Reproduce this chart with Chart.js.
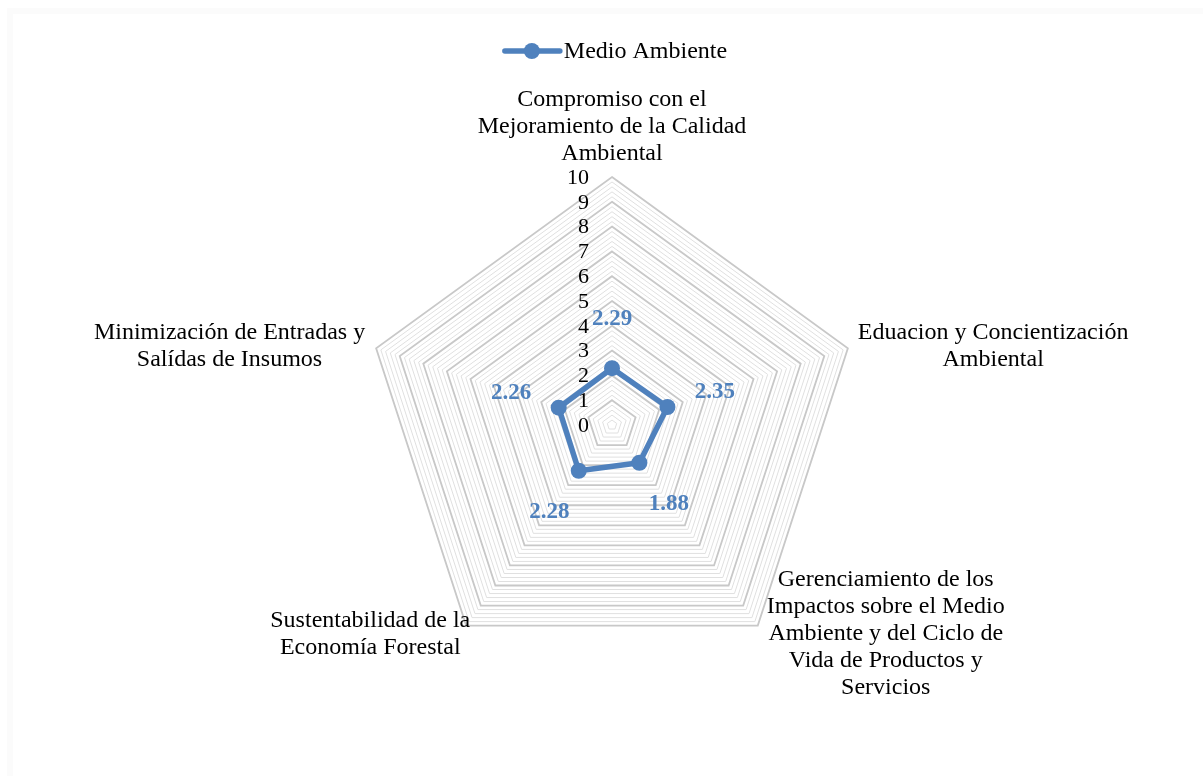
<!DOCTYPE html>
<html>
<head>
<meta charset="utf-8">
<script src="https://cdn.jsdelivr.net/npm/chart.js@4/dist/chart.umd.min.js"></script>
<style>
  html, body { margin: 0; padding: 0; background: #ffffff; }
  #wrap { width: 1203px; height: 776px; position: relative; }
</style>
</head>
<body>
<div id="wrap"><canvas id="c" width="1203" height="776"></canvas></div>
<script>
// Axis categories (one array of lines per spoke)
const categories = [
  ['Compromiso con el', 'Mejoramiento de la Calidad', 'Ambiental'],
  ['Eduacion y Concientización', 'Ambiental'],
  ['Gerenciamiento de los', 'Impactos sobre el Medio', 'Ambiente y del Ciclo de', 'Vida de Productos y', 'Servicios'],
  ['Sustentabilidad de la', 'Economía Forestal'],
  ['Minimización de Entradas y', 'Salídas de Insumos']
];
const seriesName = 'Medio Ambiente';
const seriesValues = [2.29, 2.35, 1.88, 2.28, 2.26];
const tickLabels = [0, 1, 2, 3, 4, 5, 6, 7, 8, 9, 10];

const BLUE = '#4F81BD';
const SERIF = '"Liberation Serif", "Times New Roman", serif';

// Placement of each category block relative to its outer vertex
const labelPlacement = [
  { align: 'center', dx: 0,   dy: -50.5 },
  { align: 'left',   dx: 10,  dy: -2.5 },
  { align: 'left',   dx: 9,   dy: 8.5 },
  { align: 'right',  dx: 4,   dy: 9 },
  { align: 'right',  dx: -11, dy: -2.5 }
];

const isMajor = v => Math.abs(v - Math.round(v)) < 1e-6;

// faint frame around the plot region
const frame = {
  id: 'frame',
  beforeDraw(chart) {
    const ctx = chart.ctx;
    ctx.save();
    ctx.fillStyle = '#fbfbfb';
    ctx.fillRect(7, 8, 1196, 6);
    ctx.fillRect(7, 8, 6, 768);
    ctx.restore();
  }
};

const overlay = {
  id: 'overlay',
  afterDraw(chart) {
    const ctx = chart.ctx;
    const r = chart.scales.r;
    ctx.save();

    // radial tick labels along the top spoke
    ctx.font = '22px ' + SERIF;
    ctx.fillStyle = '#000';
    ctx.textAlign = 'right';
    ctx.textBaseline = 'middle';
    tickLabels.forEach(v => {
      const y = r.yCenter - r.getDistanceFromCenterForValue(v);
      ctx.fillText(String(v), r.xCenter - 23, y + 1);
    });

    // category labels
    ctx.font = '24px ' + SERIF;
    ctx.textAlign = 'center';
    const lh = 27;
    categories.forEach((lines, i) => {
      const a = r.getPointPosition(i, r.drawingArea);
      const pl = labelPlacement[i];
      const w = Math.max(...lines.map(s => ctx.measureText(s).width));
      let cx = a.x + pl.dx;
      if (pl.align === 'left') cx += w / 2;
      if (pl.align === 'right') cx -= w / 2;
      const cy = a.y + pl.dy;
      lines.forEach((s, j) => {
        ctx.fillText(s, cx, cy + (j - (lines.length - 1) / 2) * lh);
      });
    });

    // value labels, pushed outward along each spoke
    ctx.font = 'bold 23px ' + SERIF;
    ctx.fillStyle = BLUE;
    seriesValues.forEach((v, i) => {
      const d = r.getDistanceFromCenterForValue(v) + 50;
      const p = r.getPointPosition(i, d);
      ctx.fillText(v.toFixed(2), p.x, p.y + 1);
    });

    // legend
    ctx.font = '24px ' + SERIF;
    const tw = ctx.measureText(seriesName).width;
    const total = 59 + tw;
    const x0 = 616 - total / 2;
    const ly = 51;
    ctx.strokeStyle = BLUE;
    ctx.lineWidth = 5.5;
    ctx.lineCap = 'round';
    ctx.beginPath();
    ctx.moveTo(x0, ly);
    ctx.lineTo(x0 + 55, ly);
    ctx.stroke();
    ctx.fillStyle = BLUE;
    ctx.beginPath();
    ctx.arc(x0 + 27, ly, 8, 0, Math.PI * 2);
    ctx.fill();
    ctx.fillStyle = '#000';
    ctx.textAlign = 'left';
    ctx.fillText(seriesName, x0 + 59, ly + 1);

    ctx.restore();
  }
};

new Chart(document.getElementById('c'), {
  type: 'radar',
  data: {
    labels: categories.map(l => l.join(' ')),
    datasets: [{
      label: seriesName,
      data: seriesValues,
      borderColor: BLUE,
      backgroundColor: BLUE,
      borderWidth: 5.5,
      borderJoinStyle: 'round',
      fill: false,
      pointRadius: 8,
      pointBorderWidth: 0,
      pointBackgroundColor: BLUE,
      tension: 0
    }]
  },
  options: {
    responsive: false,
    animation: false,
    devicePixelRatio: 1,
    layout: { padding: { left: 364, right: 343, top: 177, bottom: 103 } },
    plugins: {
      legend: { display: false },
      tooltip: { enabled: false }
    },
    scales: {
      r: {
        min: 0,
        max: 10,
        ticks: { display: false, stepSize: 0.2, maxTicksLimit: 100 },
        grid: {
          circular: false,
          color: c => isMajor(c.tick.value) ? '#c8c8c8' : '#e0e0e0',
          lineWidth: c => isMajor(c.tick.value) ? 1.8 : 1
        },
        angleLines: { display: false },
        pointLabels: { display: false }
      }
    }
  },
  plugins: [frame, overlay]
});
</script>
</body>
</html>
